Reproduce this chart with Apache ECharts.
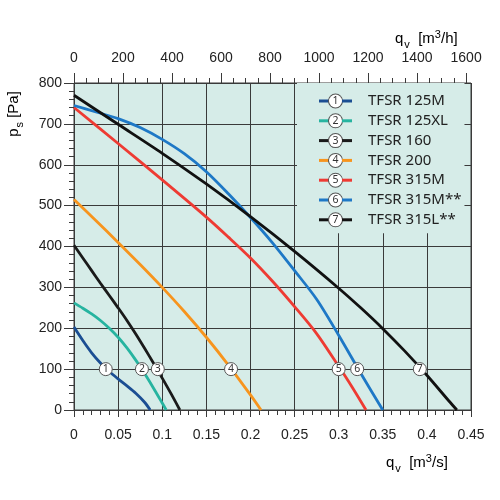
<!DOCTYPE html>
<html>
<head>
<meta charset="utf-8">
<script src="https://cdn.jsdelivr.net/npm/echarts@6/dist/echarts.min.js"></script>
<style>html,body{margin:0;padding:0;background:#fff;}#c{width:500px;height:500px;}</style>
</head>
<body>
<div id="c"></div>
<script>
// ---- data ----
const seriesNames = ['TFSR 125M', 'TFSR 125XL', 'TFSR 160', 'TFSR 200', 'TFSR 315M', 'TFSR 315M**', 'TFSR 315L**'];
const seriesColors = ['#1b4e93', '#27b4a0', '#1a1a1a', '#f7941d', '#ee3b33', '#1e78c6', '#111111'];

const q125M  = [0, 0.01, 0.02, 0.03, 0.04, 0.05, 0.06, 0.07, 0.08, 0.0864];
const p125M  = [203, 170, 140, 115, 94, 76, 59, 41, 19, 0];
const q125XL = [0, 0.01, 0.02, 0.03, 0.04, 0.05, 0.06, 0.07, 0.08, 0.09, 0.1, 0.1045];
const p125XL = [262, 249, 235, 219, 200, 178, 152, 122, 89, 54, 17, 0];
const q160   = [0, 0.01, 0.02, 0.03, 0.04, 0.05, 0.06, 0.07, 0.08, 0.09, 0.1, 0.11, 0.12];
const p160   = [403, 372, 341, 310, 280, 250, 219, 186, 151, 115, 78, 40, 0];
const q200   = [0, 0.025, 0.05, 0.075, 0.1, 0.125, 0.15, 0.175, 0.2, 0.212];
const p200   = [515, 463, 410, 356, 300, 241, 178, 110, 37, 0];
const q315M  = [0, 0.05, 0.1, 0.15, 0.175, 0.2, 0.225, 0.25, 0.275, 0.3, 0.315, 0.331];
const p315M  = [740, 652, 563, 472, 423, 372, 315, 253, 187, 107, 57, 0];
const q315Ms = [0, 0.025, 0.05, 0.075, 0.1, 0.125, 0.15, 0.175, 0.2, 0.225, 0.25, 0.275, 0.3, 0.325, 0.35];
const p315Ms = [745, 729, 713, 691, 662, 627, 583, 529, 471, 409, 341, 271, 183, 90, 0];
const q315Ls = [0, 0.05, 0.1, 0.15, 0.2, 0.25, 0.3, 0.325, 0.35, 0.375, 0.4, 0.425, 0.434];
const p315Ls = [770, 699, 628, 553, 473, 388, 298, 250, 199, 144, 85, 22, 0];

const curveQ = [q125M, q125XL, q160, q200, q315M, q315Ms, q315Ls];
const curveP = [p125M, p125XL, p160, p200, p315M, p315Ms, p315Ls];

const markerQ = [0.036, 0.077, 0.095, 0.178, 0.3, 0.321, 0.392];
const markerP = [100, 100, 100, 100, 100, 100, 100];
const markerText = ['1', '2', '3', '4', '5', '6', '7'];

const flowTicksS = [0, 0.05, 0.1, 0.15, 0.2, 0.25, 0.3, 0.35, 0.4, 0.45];
const flowLabelsH = [0, 200, 400, 600, 800, 1000, 1200, 1400, 1600];
const flowMinorH = [0, 50, 100, 150, 200, 250, 300, 350, 400, 450, 500, 550, 600, 650, 700, 750, 800,
  850, 900, 950, 1000, 1050, 1100, 1150, 1200, 1250, 1300, 1350, 1400, 1450, 1500, 1550, 1600];
const pressureTicks = [0, 100, 200, 300, 400, 500, 600, 700, 800];

// ---- chart ----
const chart = echarts.init(document.getElementById('c'));
const axisFont = 'Liberation Sans';
const txt = '#222';
const gridCol = '#3a3a3a';

const series = seriesNames.map((name, i) => ({
  name: name,
  type: 'line',
  xAxisIndex: 0,
  yAxisIndex: 0,
  data: curveQ[i].map((q, j) => [q, curveP[i][j]]),
  showSymbol: false,
  symbol: 'none',
  smooth: 0.3,
  lineStyle: { color: seriesColors[i], width: 2.8 },
  itemStyle: { color: seriesColors[i] },
  z: 2
}));

series.push({
  name: 'markers',
  type: 'scatter',
  xAxisIndex: 0,
  yAxisIndex: 0,
  data: markerQ.map((q, i) => ({ value: [q, markerP[i]], label: { formatter: markerText[i] } })),
  symbol: 'circle',
  symbolSize: 13,
  itemStyle: { color: '#fff', borderColor: '#555', borderWidth: 1, opacity: 1 },
  label: { show: true, position: 'inside', fontSize: 10.5, color: '#333', fontFamily: 'Noto Sans' },
  z: 5,
  silent: true
});

const rich = {
  c: { width: 13, height: 13, lineHeight: 13, borderRadius: 7.5, borderColor: '#555', borderWidth: 1,
       backgroundColor: '#fff', align: 'center', fontSize: 10.5, color: '#333', fontFamily: 'Noto Sans' },
  t: { fontSize: 15, color: txt, fontFamily: 'Noto Sans', padding: [0, 0, 0, 16], lineHeight: 18 }
};
seriesColors.forEach((col, i) => {
  rich['l' + i] = { width: 10, height: 3, lineHeight: 3, backgroundColor: col, color: 'rgba(0,0,0,0)', fontSize: 3 };
});

const nameRich = {
  i: { fontSize: 15, lineHeight: 20, color: txt, fontFamily: axisFont },
  sb: { fontSize: 11, lineHeight: 10, padding: [12, 0, 0, 1], color: txt, fontFamily: axisFont },
  sp: { fontSize: 11, lineHeight: 10, padding: [0, 0, 8, 0], color: txt, fontFamily: axisFont }
};

chart.setOption({
  animation: false,
  backgroundColor: '#fff',
  grid: {
    left: 74, right: 29, top: 83, bottom: 90,
    show: true, backgroundColor: '#d6ece8', borderColor: gridCol, borderWidth: 1
  },
  legend: {
    orient: 'vertical',
    left: 297, top: 83,
    data: seriesNames,
    icon: 'none',
    itemWidth: 0, itemHeight: 14,
    itemGap: 4.8,
    padding: [10.5, 3, 6, 17],
    backgroundColor: '#d6ece8',
    selectedMode: false,
    formatter: function (name) {
      const i = seriesNames.indexOf(name);
      return '{l' + i + '| }{c|' + markerText[i] + '}{l' + i + '| }{t|' + name + '}';
    },
    textStyle: { rich: rich, color: txt, fontSize: 15, fontFamily: 'Noto Sans' }
  },
  xAxis: [
    {
      type: 'value', position: 'bottom', min: 0, max: 0.45, interval: 0.05,
      axisLine: { show: true, lineStyle: { color: gridCol, width: 1 } },
      axisTick: { show: true, length: 7, lineStyle: { color: gridCol } },
      minorTick: { show: true, splitNumber: 5, length: 5, lineStyle: { color: gridCol } },
      splitLine: { show: true, lineStyle: { color: gridCol, width: 1 } },
      axisLabel: { margin: 18, fontSize: 14, color: txt, fontFamily: axisFont,
        customValues: flowTicksS, formatter: v => String(v) }
    },
    {
      type: 'value', position: 'top', min: 0, max: 1620,
      axisLine: { show: true, lineStyle: { color: gridCol, width: 1 } },
      axisTick: { show: true, length: 10, lineStyle: { color: gridCol }, customValues: flowLabelsH },
      splitLine: { show: false },
      axisLabel: { margin: 18, fontSize: 14, color: txt, fontFamily: axisFont,
        customValues: flowLabelsH, formatter: v => String(v) }
    },
    {
      type: 'value', position: 'top', min: 0, max: 1620,
      axisLine: { show: false },
      axisTick: { show: true, length: 5, lineStyle: { color: gridCol }, customValues: flowMinorH },
      splitLine: { show: false },
      axisLabel: { show: false }
    }
  ],
  yAxis: [
    {
      type: 'value', min: 0, max: 800, interval: 100,
      axisLine: { show: true, lineStyle: { color: gridCol, width: 1 } },
      axisTick: { show: true, length: 10, lineStyle: { color: gridCol } },
      minorTick: { show: true, splitNumber: 5, length: 5, lineStyle: { color: gridCol } },
      splitLine: { show: true, lineStyle: { color: gridCol, width: 1 } },
      axisLabel: { margin: 12, fontSize: 14, color: txt, fontFamily: axisFont,
        customValues: pressureTicks, formatter: v => String(v) }
    }
  ],
  graphic: [
    { type: 'text', x: 386, y: 453, z: 10,
      style: { text: '{i|q}{sb|v}{i|  [m}{sp|3}{i|/s]}', rich: nameRich, align: 'left', verticalAlign: 'top' } },
    { type: 'text', x: 395, y: 29, z: 10,
      style: { text: '{i|q}{sb|v}{i|  [m}{sp|3}{i|/h]}', rich: nameRich, align: 'left', verticalAlign: 'top' } },
    { type: 'text', x: 14, y: 114, rotation: Math.PI / 2, z: 10,
      style: { text: '{i|p}{sb|s}{i| [Pa]}', rich: nameRich, align: 'center', verticalAlign: 'middle' } }
  ],
  series: series
});
</script>
</body>
</html>
